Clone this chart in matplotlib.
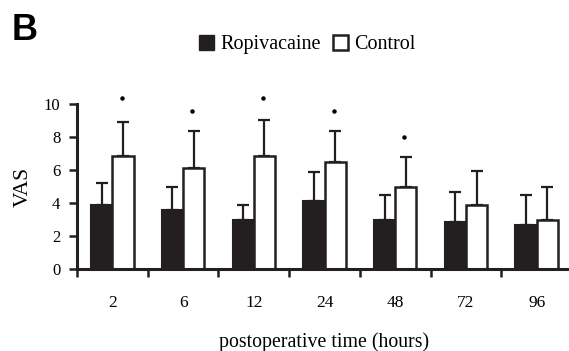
import numpy as np
import matplotlib
matplotlib.use("Agg")
import matplotlib.pyplot as plt
from matplotlib.patches import Patch

plt.rcParams['font.family'] = ['Liberation Serif', 'DejaVu Serif']

hours = ['2', '6', '12', '24', '48', '72', '96']
ropi_mean = [3.9, 3.55, 3.0, 4.1, 3.0, 2.85, 2.65]
ropi_top = [5.2, 5.0, 3.85, 5.9, 4.5, 4.65, 4.5]
ctrl_mean = [6.85, 6.1, 6.85, 6.5, 5.0, 3.9, 3.0]
ctrl_top = [8.9, 8.35, 9.05, 8.35, 6.8, 5.95, 5.0]
star_y = [10.35, 9.6, 10.35, 9.6, 8.0]

dark = '#231f20'

fig = plt.figure(figsize=(5.69, 3.51), dpi=100)
ax = fig.add_axes([0.1353, 0.2336, 0.87, 0.47])

x = np.arange(len(hours)) + 0.5
w = 0.3
ropi_err = np.array(ropi_top) - np.array(ropi_mean)
ctrl_err = np.array(ctrl_top) - np.array(ctrl_mean)

ax.bar(x - w / 2, ropi_mean, w, color=dark, edgecolor=dark, linewidth=1.5, zorder=2)
ax.bar(x + w / 2, ctrl_mean, w, color='white', edgecolor=dark, linewidth=1.8, zorder=2)
ax.errorbar(x - w / 2, ropi_mean, yerr=[np.zeros(7), ropi_err], fmt='none',
            ecolor=dark, elinewidth=1.6, capsize=4, capthick=1.6, zorder=1)
ax.errorbar(x + w / 2, ctrl_mean, yerr=[np.zeros(7), ctrl_err], fmt='none',
            ecolor=dark, elinewidth=1.6, capsize=4, capthick=1.6, zorder=1)

for i, sy in enumerate(star_y):
    ax.plot(x[i] + w / 2 - 0.02, sy, marker='o', markersize=2.2, color='black',
            clip_on=False, linestyle='none')

ax.set_xlim(0, 7)
ax.set_ylim(0, 10)
ax.set_yticks([0, 2, 4, 6, 8, 10])
ax.set_xticks(np.arange(7))
ax.set_xticklabels([])
ax.set_xticks(x, minor=True)
ax.set_xticklabels(hours, minor=True, fontsize=12.5)
ax.tick_params(axis='x', which='minor', length=0, pad=19)
ax.tick_params(axis='x', which='major', length=6, width=1.8, color=dark)
ax.tick_params(axis='y', length=6, width=1.8, color=dark, labelsize=12, pad=6)

for s in ['top', 'right']:
    ax.spines[s].set_visible(False)
for s in ['left', 'bottom']:
    ax.spines[s].set_linewidth(2.2)
    ax.spines[s].set_color(dark)

ax.set_ylabel('VAS', fontsize=15.5, labelpad=8)
ax.set_xlabel('postoperative time (hours)', fontsize=14.3, labelpad=15)

handles = [Patch(facecolor=dark, edgecolor=dark, label='Ropivacaine'),
           Patch(facecolor='white', edgecolor=dark, linewidth=1.8, label='Control')]
fig.legend(handles=handles, loc='center', bbox_to_anchor=(0.54, 0.873), ncol=2,
           frameon=False, fontsize=14.5, handlelength=0.75, handleheight=0.75,
           handletextpad=0.3, columnspacing=0.6, borderpad=0)

fig.text(0.02, 0.885, 'B', fontsize=26, fontweight='bold', family='Liberation Sans')

fig.savefig('out.png', dpi=100)
